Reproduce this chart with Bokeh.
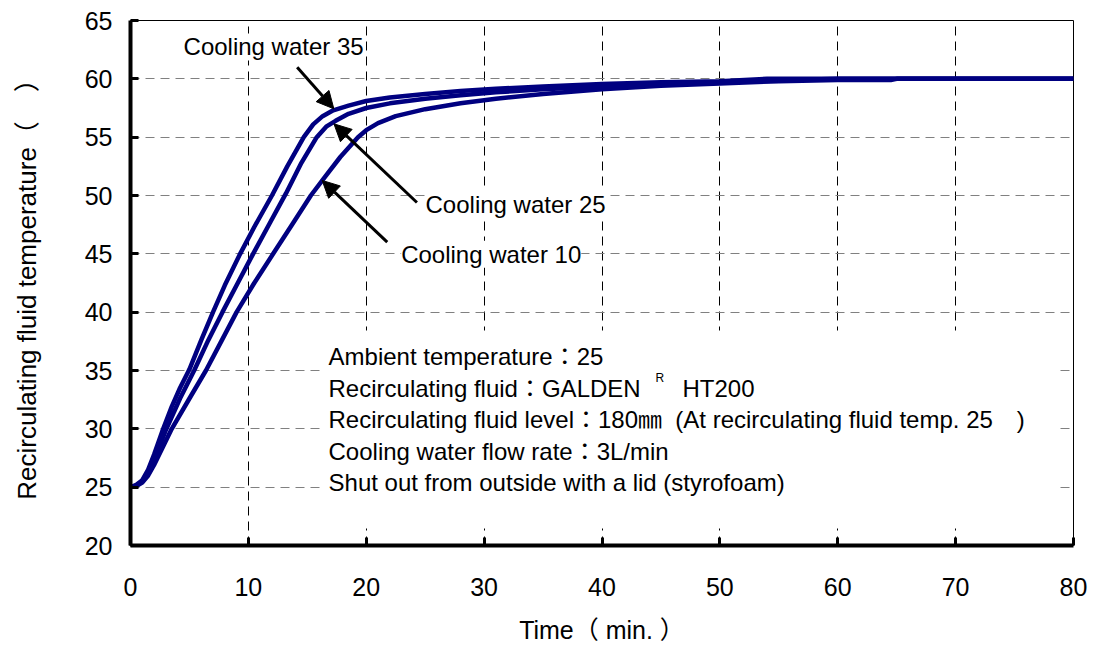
from bokeh.plotting import figure
from bokeh.models import Range1d, FixedTicker, Label, Arrow, NormalHead, BoxAnnotation
from bokeh.embed import file_html
from bokeh.resources import INLINE

# ---- data ----
time_cw35 = [0, 0.5, 1, 1.5, 2, 2.7, 3.5, 4.2, 5.0, 6.0, 7.0, 8.0, 9.3, 10.5, 12.0, 13.3, 14.7, 15.5, 16.3, 17.2,
             18.5, 20, 22, 25, 28, 31, 35, 40, 45, 50, 54, 60, 70, 80]
temp_cw35 = [25.0, 25.2, 25.6, 26.5, 27.8, 29.8, 31.9, 33.5, 35.1, 37.6, 40.0, 42.3, 45.0, 47.3, 50.0, 52.5, 55.0, 56.1, 56.8, 57.3,
             57.7, 58.1, 58.4, 58.7, 58.95, 59.15, 59.35, 59.55, 59.7, 59.8, 60.0, 60.0, 60.0, 60.0]

time_cw25 = [0, 0.5, 1, 1.5, 2, 3.0, 4.2, 5.4, 6.6, 7.8, 9.1, 10.4, 11.8, 13.2, 14.5, 15.8, 16.6, 17.4, 18.5, 20,
             22, 25, 28, 31, 35, 40, 45, 50, 55, 60, 70, 80]
temp_cw25 = [25.0, 25.15, 25.5, 26.2, 27.3, 29.9, 32.6, 35.0, 37.6, 40.0, 42.5, 45.0, 47.6, 50.2, 52.8, 55.0, 55.9, 56.4, 57.0, 57.5,
             57.9, 58.3, 58.6, 58.85, 59.1, 59.35, 59.55, 59.7, 59.85, 60.0, 60.0, 60.0]

time_cw10 = [0, 0.5, 1, 1.5, 2, 3.5, 5.0, 6.4, 7.7, 9.0, 10.5, 12.1, 13.7, 15.3, 16.5, 17.8, 19.3, 20, 21, 22.5,
             25, 28, 31, 35, 40, 45, 50, 55, 60, 64.5, 65, 80]
temp_cw10 = [25.0, 25.1, 25.4, 26.0, 26.9, 30.0, 32.6, 35.0, 37.5, 40.0, 42.5, 45.0, 47.5, 50.0, 51.6, 53.3, 55.0, 55.6, 56.2, 56.8,
             57.4, 57.9, 58.3, 58.7, 59.1, 59.4, 59.6, 59.8, 59.9, 59.9, 60.0, 60.0]

x_ticks = [0, 10, 20, 30, 40, 50, 60, 70, 80]
y_ticks = [20, 25, 30, 35, 40, 45, 50, 55, 60, 65]

series_labels = ["Cooling water 35", "Cooling water 25", "Cooling water 10"]
note_lines = [
    "Ambient temperature\uff1a25",
    "Recirculating fluid\uff1aGALDEN",
    "Recirculating fluid level\uff1a180\u339c\u00a0\u00a0(At recirculating fluid temp. 25\u3000)",
    "Cooling water flow rate\uff1a3L/min",
    "Shut out from outside with a lid (styrofoam)",
]
x_title = "Time\uff08\u00a0min.\u00a0\uff09"
y_title = "Recirculating fluid temperature\uff08\u00a0\u00a0\u00a0\u00a0\uff09"

FONT = "Liberation Sans, Noto Sans CJK JP"
NAVY = "#000080"

p = figure(width=1096, height=650, x_range=Range1d(0, 80), y_range=Range1d(20, 65),
           output_backend="svg", toolbar_location=None,
           min_border_left=130, min_border_right=23, min_border_top=20, min_border_bottom=105)
p.background_fill_color = "white"
p.border_fill_color = "white"
p.outline_line_color = "black"
p.outline_line_width = 1

# grids
p.xgrid.ticker = FixedTicker(ticks=x_ticks)
p.ygrid.ticker = FixedTicker(ticks=y_ticks)
p.xgrid.grid_line_color = "black"
p.xgrid.grid_line_dash = "9 6"
p.xgrid.grid_line_width = 1
p.ygrid.grid_line_color = "#808080"
p.ygrid.grid_line_dash = "9 6"
p.ygrid.grid_line_width = 1

# axes
for ax, ticks in ((p.xaxis[0], x_ticks), (p.yaxis[0], y_ticks)):
    ax.ticker = FixedTicker(ticks=ticks)
    ax.axis_line_width = 4
    ax.axis_line_color = "black"
    ax.major_tick_in = 8
    ax.major_tick_out = 0
    ax.major_tick_line_width = 3
    ax.minor_tick_line_color = None
    ax.major_label_text_font = FONT
    ax.major_label_text_font_size = "25px"
    ax.major_label_text_color = "black"
    ax.axis_label_text_font = FONT
    ax.axis_label_text_font_style = "normal"
    ax.axis_label_text_color = "black"

p.xaxis.major_label_standoff = 32
p.yaxis.major_label_standoff = 18
p.xaxis.axis_label = x_title
p.yaxis.axis_label = y_title
p.xaxis.axis_label_text_font_size = "25px"
p.yaxis.axis_label_text_font_size = "26px"
p.xaxis.axis_label_standoff = 17
p.yaxis.axis_label_standoff = 40

# curves
p.line(time_cw10, temp_cw10, line_color=NAVY, line_width=4.5)
p.line(time_cw25, temp_cw25, line_color=NAVY, line_width=4.5)
p.line(time_cw35, temp_cw35, line_color=NAVY, line_width=4.5)

# white note box
p.add_layout(BoxAnnotation(left=16.4, right=78.5, bottom=21.46, top=38.43,
                           fill_color="white", fill_alpha=1.0, line_alpha=0))

note_y = [36.22, 33.50, 30.78, 28.07, 25.36]
for txt, yy in zip(note_lines, note_y):
    p.add_layout(Label(x=16.8, y=yy, text=txt, text_font=FONT, text_font_size="24px",
                       text_baseline="middle", text_color="black"))
p.add_layout(Label(x=44.54, y=34.40, text="R", text_font=FONT, text_font_size="12px",
                   text_baseline="middle", text_color="black"))
p.add_layout(Label(x=46.83, y=33.50, text="HT200", text_font=FONT, text_font_size="24px",
                   text_baseline="middle", text_color="black"))

# series labels
label_pos = [(4.5, 62.73), (25.03, 49.24), (22.96, 44.96)]
for txt, (lx, ly) in zip(series_labels, label_pos):
    p.add_layout(Label(x=lx, y=ly, text=txt, text_font=FONT, text_font_size="24px",
                       text_baseline="middle", text_color="black",
                       background_fill_color="white", background_fill_alpha=1.0))

# arrows
arrows = [((14.14, 61.0), (17.25, 57.43)),
          ((24.3, 49.4), (17.26, 56.14)),
          ((21.78, 46.0), (16.26, 51.29))]
for (xs, ys), (xe, ye) in arrows:
    p.add_layout(Arrow(x_start=xs, y_start=ys, x_end=xe, y_end=ye, line_width=3, line_color="black",
                       end=NormalHead(size=17, fill_color="black", line_color="black")))

open("out.html", "w").write(file_html(p, INLINE))
